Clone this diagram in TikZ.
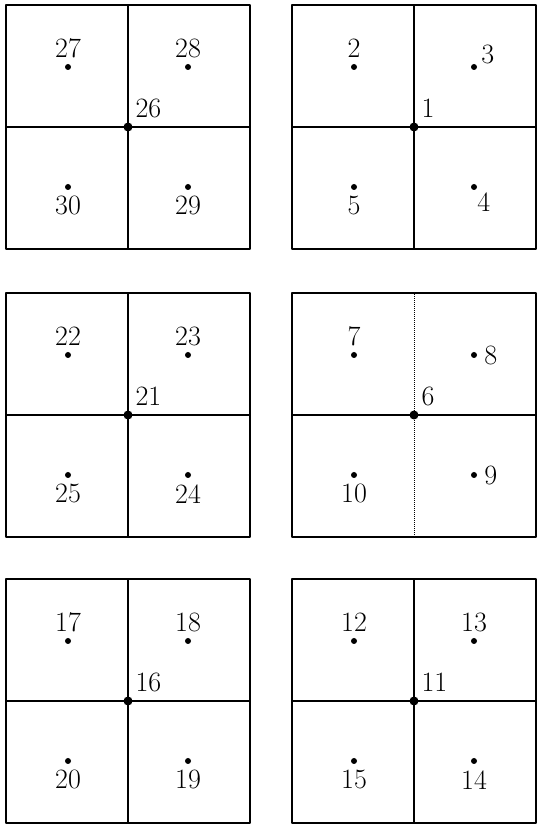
\documentclass[tikz,border=0pt]{standalone}
\usepackage{tikz}
\usetikzlibrary{positioning}
\tikzset{
  frame/.style={line width=2.4pt,line join=round},
  divider/.style={line width=1.6pt},
  vline/.style={divider},
  spot/.style={circle,fill,inner sep=0pt,minimum size=6pt},
  hub/.style={circle,fill,inner sep=0pt,minimum size=9pt},
  num/.style={font=\fontsize{28}{30}\selectfont,inner sep=1pt},
}
% one panel: x, y, hub, tl, tr, br, bl, where the tr label goes, where the br label goes
\newcommand{\panel}[9]{%
  \draw[frame] ({#1-122},{#2-122}) rectangle ({#1+122},{#2+122});
  \draw[divider] ({#1-122},#2) -- ({#1+122},#2);
  \draw[vline] (#1,{#2-122}) -- (#1,{#2+122});
  \node[hub] (c#3) at (#1,#2) {};
  \node[num,above right=5pt and 3pt of c#3] (l#3) {#3};
  \node[spot] (p#4) at ({#1-60},{#2+60}) {};
  \node[num,above=5pt of p#4] (l#4) {#4};
  \node[spot] (p#5) at ({#1+60},{#2+60}) {};
  \node[num,#8 of p#5] (l#5) {#5};
  \node[spot] (p#6) at ({#1+60},{#2-60}) {};
  \node[num,#9 of p#6] (l#6) {#6};
  \node[spot] (p#7) at ({#1-60},{#2-60}) {};
  \node[num,below=5pt of p#7] (l#7) {#7};
}

\begin{document}
\begin{tikzpicture}[x=1pt,y=1pt]
  \useasboundingbox (0,0) rectangle (539,836);
  % top row
  \panel{128}{709}{26}{27}{28}{29}{30}{above=5pt}{below=5pt}
  \panel{414}{709}{1}{2}{3}{4}{5}{above right=0pt and 4pt}{below right=2pt and 0pt}
  % middle row
  \panel{128}{421}{21}{22}{23}{24}{25}{above=5pt}{below=5pt}
  \begin{scope}[vline/.style={densely dotted,line width=1pt}]
    \panel{414}{421}{6}{7}{8}{9}{10}{right=6pt}{right=6pt}
  \end{scope}
  % bottom row
  \panel{128}{135}{16}{17}{18}{19}{20}{above=5pt}{below=5pt}
  \panel{414}{135}{11}{12}{13}{14}{15}{above=5pt}{below=5pt}
\end{tikzpicture}
\end{document}
